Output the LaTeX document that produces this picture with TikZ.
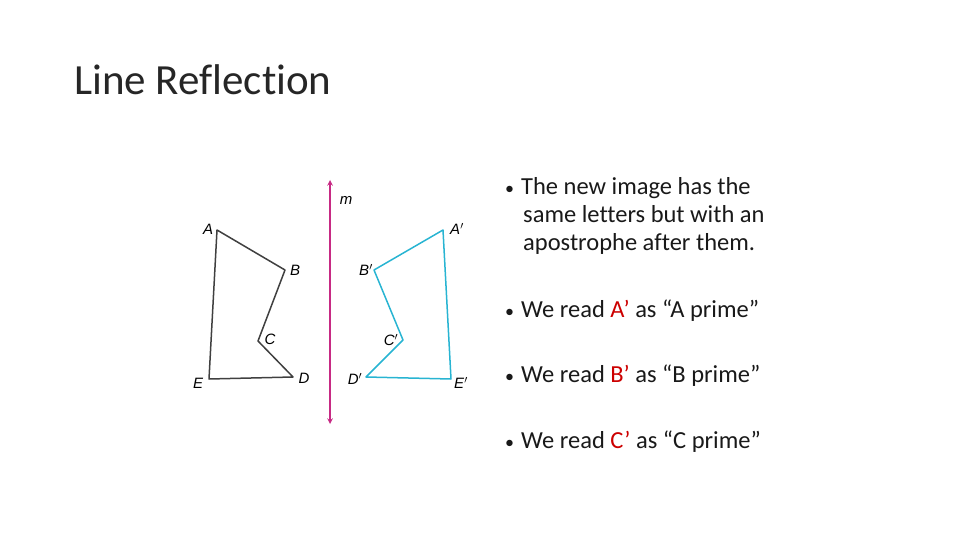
\documentclass[tikz,border=0pt]{standalone}
\usepackage{fontspec}
\setmainfont[Ligatures=CommonOff]{Carlito}
\newfontfamily\ital{Liberation Sans}
\definecolor{refcyan}{RGB}{40,180,210}
\newcommand{\mybul}{{\fontsize{18}{18}\selectfont•}\hspace{7pt}}
\begin{document}
\begin{tikzpicture}[x=1pt,y=-1pt,
  lbl/.style={font=\ital\itshape\fontsize{15}{15}\selectfont,inner sep=0pt},
  btxt/.style={anchor=west,font=\fontsize{24.5}{28}\selectfont,align=left,inner sep=0pt,text=black!90},
  orig/.style={draw=black!75,line width=1.5pt,line join=round},
  refl/.style={draw=refcyan,line width=1.5pt,line join=round}]
\useasboundingbox (0,0) rectangle (960,540);
\node[anchor=base west,inner sep=0pt,font=\fontsize{43}{43}\selectfont,text=black!85] (title) at (74,95) {Line Reflection};
\coordinate (A) at (217,230); \coordinate (B) at (285,270); \coordinate (C) at (258,341);
\coordinate (D) at (293,377); \coordinate (E) at (209,379);
\coordinate (A2) at (443,230); \coordinate (B2) at (374,270); \coordinate (C2) at (403,340);
\coordinate (D2) at (366,377); \coordinate (E2) at (451,379);
\draw[orig] (A)--(B)--(C)--(D)--(E)--cycle;
\draw[refl] (A2)--(B2)--(C2)--(D2)--(E2)--cycle;
\coordinate (mt) at (330,180); \coordinate (mb) at (330,424);
\draw[draw=magenta!80!black,line width=1.5pt,stealth-stealth] (mt)--(mb);
\node[lbl] (m) at (346,200) {m};
\node[lbl] (la) at (208,229) {A}; \node[lbl] (lb) at (295,270) {B};
\node[lbl] (lc) at (270,339) {C}; \node[lbl] (ld) at (304,378) {D};
\node[lbl] (le) at (198,383) {E};
\node[lbl] (la2) at (457,229) {A$'$}; \node[lbl] (lb2) at (366,270) {B$'$};
\node[lbl] (lc2) at (391,340) {C$'$}; \node[lbl] (ld2) at (355,379) {D$'$};
\node[lbl] (le2) at (461,383) {E$'$};
\node[btxt] (b1) at (505,216) {\mybul The new image has the\\\hspace{18pt}same letters but with an\\\hspace{18pt}apostrophe after them.};
\node[btxt] (b2) at (505,311) {\mybul We read \textcolor{red!80!black}{A’} as “A prime”};
\node[btxt] (b3) at (505,376) {\mybul We read \textcolor{red!80!black}{B’} as “B prime”};
\node[btxt] (b4) at (505,442) {\mybul We read \textcolor{red!80!black}{C’} as “C prime”};
\end{tikzpicture}
\end{document}
